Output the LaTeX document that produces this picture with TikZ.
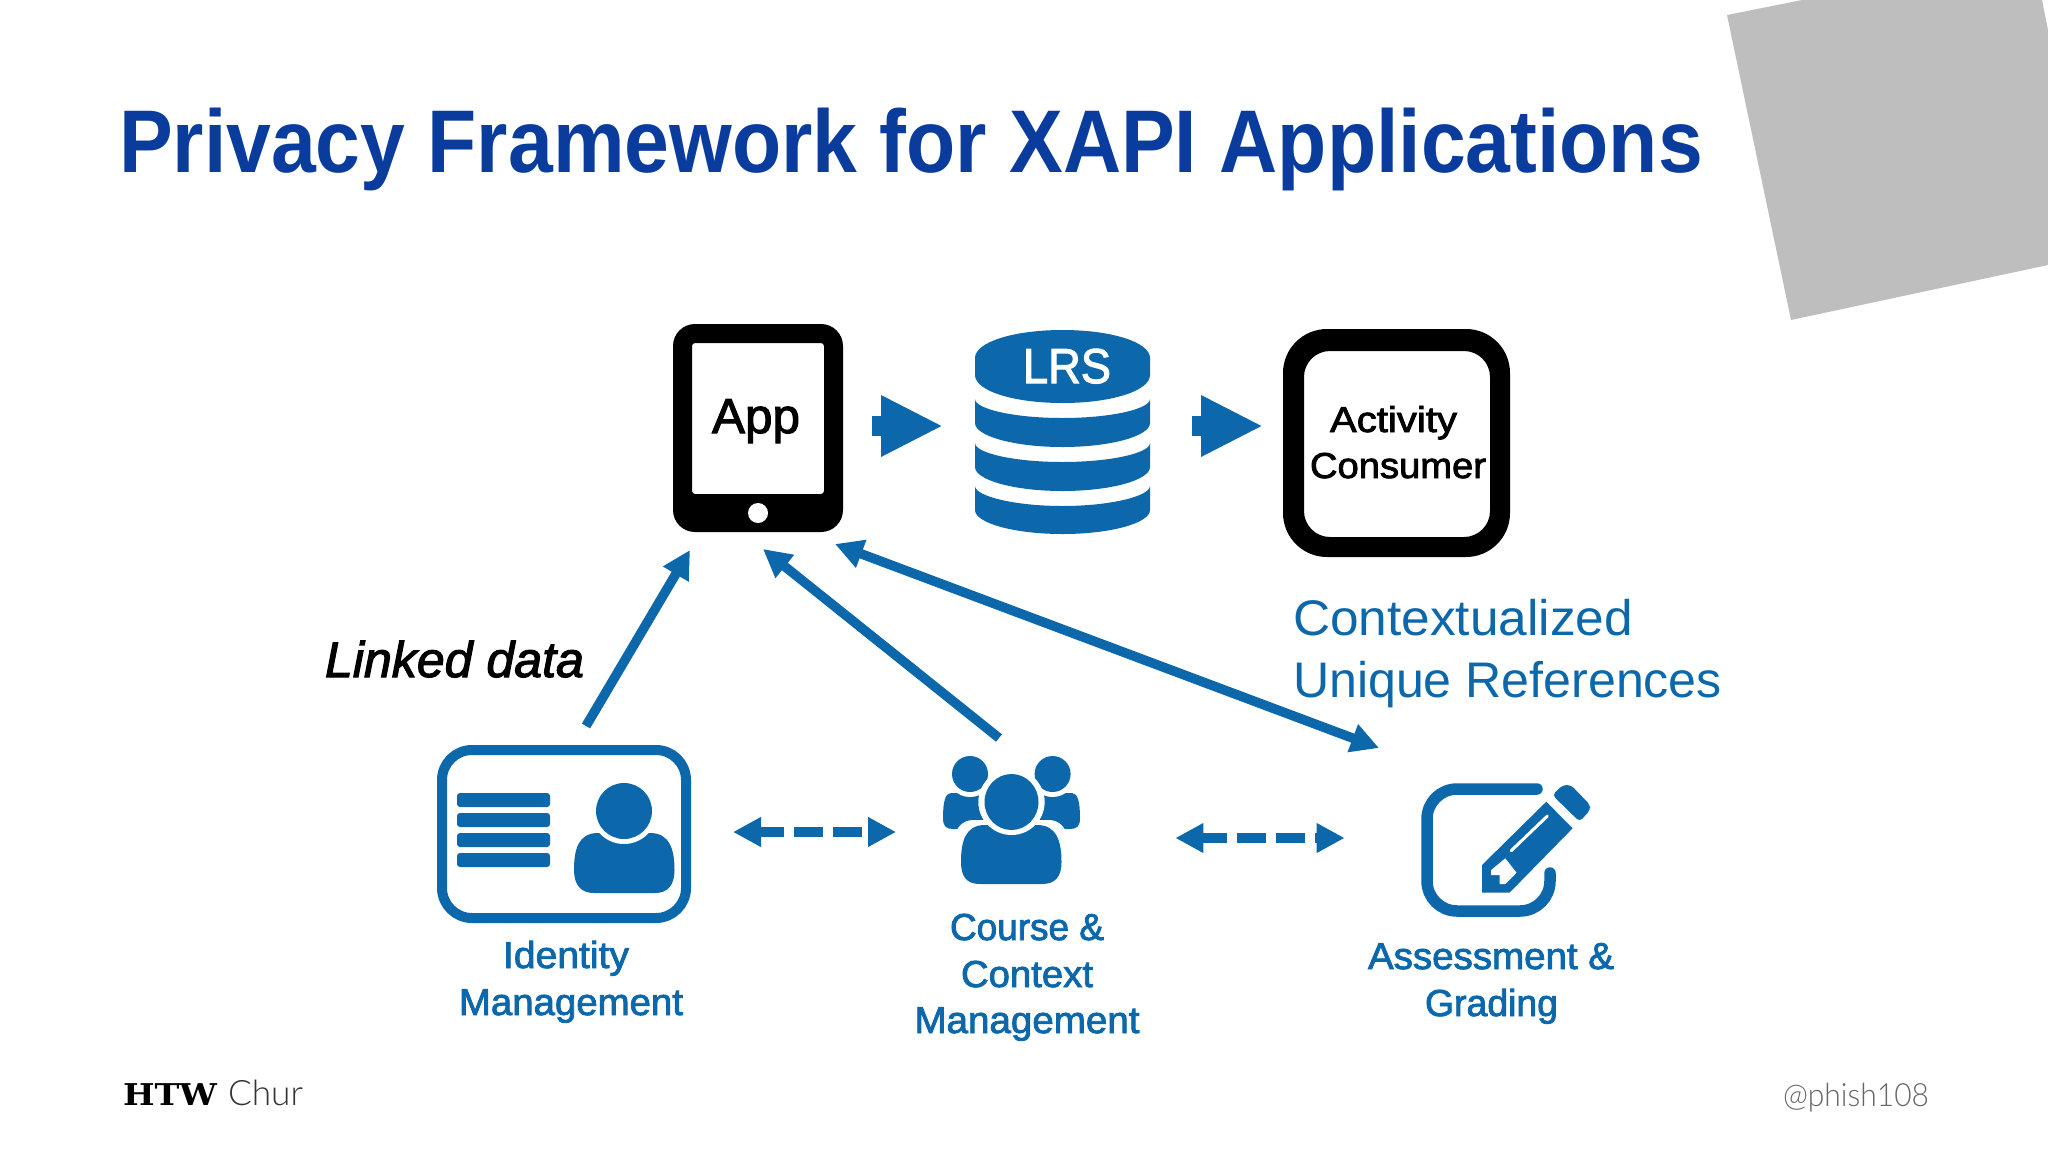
\documentclass[tikz,border=0pt]{standalone}
\usepackage{fontspec}
\usepackage{graphicx}
\usetikzlibrary{arrows.meta}
\setmainfont{Liberation Sans}
\newfontfamily\medf{Liberation Sans}[FakeBold=2.2]
\newfontfamily\slabf{DejaVu Serif}
\newfontfamily\lightf{Lato Light}
\definecolor{ib}{HTML}{0C68AA}
\definecolor{tb}{HTML}{0A3C9E}
\definecolor{gr}{HTML}{BFBEBF}
\newcommand{\fitw}[2]{\resizebox{#1pt}{\height}{#2}}
\newcommand{\fs}[1]{\fontsize{#1}{#1}\selectfont}
\newcommand{\band}[4]{\fill[ib] (975,#1) .. controls (975,#1+10) and (1014,#2) .. (1062.5,#2) .. controls (1111,#2) and (1150,#1+10) .. (1150,#1) -- (1150,#3) .. controls (1150,#3+13) and (1111,#4) .. (1062.5,#4) .. controls (1014,#4) and (975,#3+13) .. (975,#3) -- cycle;}
\tikzset{
  txt/.style={inner sep=0pt,outer sep=0pt,anchor=base},
  lab/.style={txt,text=ib,font=\medf\fs{37.5}},
  blk/.style={txt,text=black,font=\medf\fs{36}},
  blockarrow/.style={ib,line width=20pt,-{Triangle[length=62pt,width=57pt]}},
  linkarrow/.style={ib,line width=9.5pt,-{Triangle[length=28pt,width=28pt]}},
  bothlink/.style={ib,line width=9.5pt,{Triangle[length=28pt,width=28pt]}-{Triangle[length=28pt,width=28pt]}},
  dasharrow/.style={ib,line width=10pt,dash pattern=on 29pt off 10pt,dash phase=4pt,{Triangle[length=28pt,width=28pt]}-{Triangle[length=28pt,width=28pt]}}
}
\begin{document}
\begin{tikzpicture}[x=1pt,y=-1pt]
\useasboundingbox (0,0) rectangle (2048,1152);
\fill[white] (0,0) rectangle (2048,1152);
% grey square
\fill[gr] (1727,15) -- (1802,0) -- (2042,0) -- (2048,30) -- (2048,265) -- (1791,320) -- cycle;
% title
\node[txt,anchor=base west,text=tb,font=\bfseries\fs{89}] (title) at (119,172) {\fitw{1584}{Privacy Framework for XAPI Applications}};
% tablet
\fill[black,even odd rule,rounded corners=22pt] (673,324) rectangle (843,532) [rounded corners=3pt] (692,343) rectangle (824,494);
\fill[white] (758,513) circle (10);
\node[blk,font=\medf\fs{49}] (app) at (756,433) {\fitw{88}{App}};
% LRS
\fill[ib] (975,358) .. controls (975,342) and (1014,330) .. (1062.5,330) .. controls (1111,330) and (1150,342) .. (1150,358) -- (1150,375) .. controls (1150,391) and (1111,403) .. (1062.5,403) .. controls (1014,403) and (975,391) .. (975,375) -- cycle;
\band{399}{418}{423}{447}
\band{443}{462}{467}{491}
\band{486}{506}{510}{534}
\node[txt,text=white,font=\medf\fs{49}] (lrs) at (1067,383) {\fitw{88}{LRS}};
% consumer
\fill[black,even odd rule,rounded corners=44pt] (1283,329) rectangle (1510,557) [rounded corners=26pt] (1304,351) rectangle (1490,537);
\node[blk] (act) at (1393.5,432) {\fitw{127}{Activity}};
\node[blk] (cons) at (1398,478) {\fitw{176}{Consumer}};
% block arrows
\coordinate (a1) at (872,426); \coordinate (a2) at (943,426);
\coordinate (b1) at (1192,426); \coordinate (b2) at (1263,426);
\draw[blockarrow] (a1) -- (a2);
\draw[blockarrow] (b1) -- (b2);
% link arrows
\coordinate (c1) at (586,726); \coordinate (c2) at (690,550);
\coordinate (d1) at (999,738); \coordinate (d2) at (763,549);
\coordinate (e1) at (835,544); \coordinate (e2) at (1379,748);
\draw[linkarrow] (c1) -- (c2);
\draw[linkarrow] (d1) -- (d2);
\draw[bothlink] (e1) -- (e2);
% texts
\node[txt,anchor=base west,text=black,font=\medf\itshape\fs{50}] (linked) at (325,677) {\fitw{259}{Linked data}};
\node[txt,anchor=base west,text=ib,font=\fs{50}] (ctx) at (1293,635) {\fitw{340}{Contextualized}};
\node[txt,anchor=base west,text=ib,font=\fs{50}] (uniq) at (1293,697) {\fitw{429}{Unique References}};
% identity card
\draw[ib,line width=10pt,rounded corners=30pt] (442,750) rectangle (686,918);
\foreach \yy in {793,813,833,853}
  \fill[ib,rounded corners=3pt] (457,\yy) rectangle (550,\yy+14);
\fill[ib] (574,870) .. controls (574,850) and (578,833) .. (598,833) -- (650,833) .. controls (670,833) and (674.5,850) .. (674.5,870) .. controls (674.5,885) and (668,893) .. (655,893) -- (594,893) .. controls (581,893) and (574,885) .. (574,870) -- cycle;
\fill[white] (624,811) ellipse (33 and 33);
\fill[ib] (624,811) ellipse (28 and 28);
\node[lab] (idl) at (566,968) {\fitw{126}{Identity}};
\node[lab] (idm) at (571,1015) {\fitw{224}{Management}};
% group icon
\fill[ib] (943,818) .. controls (943,803) and (945,793) .. (951,793) -- (990,793) -- (990,829) -- (953,829) .. controls (946,829) and (943,826) .. (943,818) -- cycle;
\fill[ib] (1080,818) .. controls (1080,803) and (1078,793) .. (1072,793) -- (1033,793) -- (1033,829) -- (1070,829) .. controls (1077,829) and (1080,826) .. (1080,818) -- cycle;
\fill[white] (970,774) circle (23);
\fill[white] (1052.6,774) circle (23);
\fill[ib] (970,774) circle (18);
\fill[ib] (1052.6,774) circle (18);
\fill[white] (1011.5,802) circle (33);
\fill[white,rounded corners=18pt] (955,820) rectangle (1067,890);
\fill[ib] (961,862) .. controls (961,842) and (965,825) .. (985,825) -- (1037,825) .. controls (1057,825) and (1061.5,842) .. (1061.5,862) .. controls (1061.5,877) and (1055,884) .. (1042,884) -- (980,884) .. controls (967,884) and (961,877) .. (961,862) -- cycle;
\fill[white] (1011.5,802) circle (33);
\fill[ib] (1011.5,802) ellipse (27 and 28);
\node[lab] (cc) at (1027,940) {\fitw{154}{Course \&}};
\node[lab] (cx) at (1027,987) {\fitw{132}{Context}};
\node[lab] (cm) at (1027,1033) {\fitw{225}{Management}};
% dashed arrows
\coordinate (f1) at (733,832); \coordinate (f2) at (896,832);
\coordinate (g1) at (1175.4,838); \coordinate (g2) at (1344.6,838);
\draw[dasharrow] (f1) -- (f2);
\draw[dasharrow] (g1) -- (g2);
% assessment icon
\draw[ib,line width=11.5pt,line cap=round] (1537,789) -- (1457,789) arc[start angle=270,end angle=180,radius=30] -- (1427,881) arc[start angle=180,end angle=90,radius=30] -- (1520,911) arc[start angle=90,end angle=0,radius=30] -- (1550,873);
\fill[ib] (1546.3,801.7) -- (1572.6,828.3) -- (1509.5,892.7) -- (1482,892.7) -- (1482,865) -- cycle;
\fill[white] (1491.2,870) -- (1505.3,858.3) -- (1516.5,872.7) -- (1505.3,884) -- (1499.6,884) -- (1499.6,875) -- (1491.2,875) -- cycle;
\draw[white,line width=3pt,line cap=round] (1511.2,850.7) -- (1547.4,816);
\fill[ib,rounded corners=4pt] (1552.3,795) -- (1562.8,785) -- (1570.9,785) -- (1590.2,805) -- (1590.2,810) -- (1579.6,821.7) -- cycle;
\node[lab] (aa) at (1491,969) {\fitw{246}{Assessment \&}};
\node[lab] (ag) at (1491.5,1016) {\fitw{133}{Grading}};
% footer
\node[txt,anchor=base west,text=black,font=\slabf\bfseries\fs{30}] (htw) at (123,1105) {\fitw{94}{HTW}};
\node[txt,anchor=base west,text=black!80,font=\lightf\fs{35}] (chur) at (228,1105) {\fitw{75}{Chur}};
\node[txt,anchor=base west,text=black!60,font=\lightf\fs{32}] (ph) at (1783,1106) {\fitw{146}{@phish108}};
\end{tikzpicture}
\end{document}
